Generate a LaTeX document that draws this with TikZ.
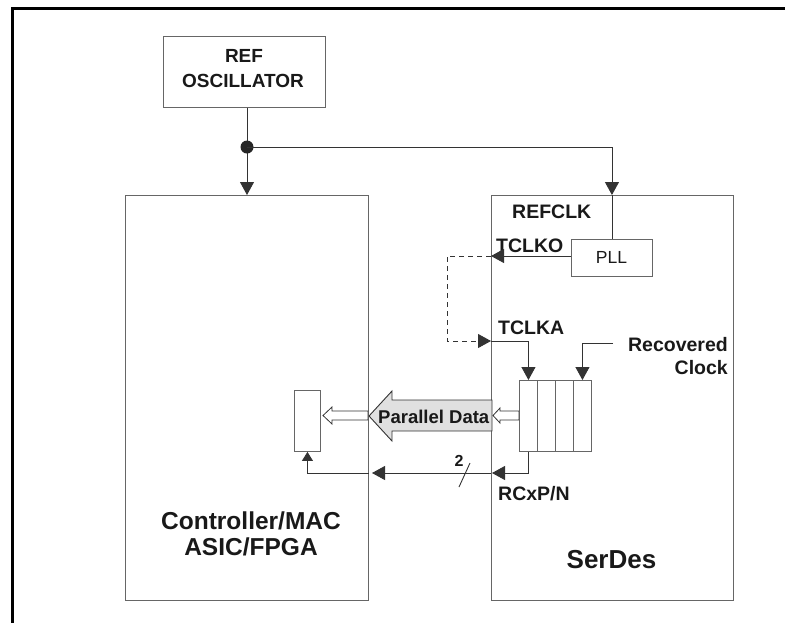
\documentclass[tikz,border=0pt]{standalone}
\usepackage{fontspec}
\setmainfont{Liberation Sans}
\usetikzlibrary{arrows.meta}
\begin{document}
\begin{tikzpicture}[x=1pt,y=-1pt,
  txt/.style={font=\bfseries\fontsize{19}{23}\selectfont, text=black!90, inner sep=0pt},
  blk/.style={draw=black!60, line width=0.9pt, inner sep=0pt, anchor=north west},
  con/.style={draw=black!80, line width=0.9pt},
  bigtip/.style={-{Triangle[width=14pt,length=13pt]}},
  smalltip/.style={-{Triangle[width=11pt,length=9pt]}},
  hollow/.style={draw=black!80, line width=0.8pt, fill=white}
]
\useasboundingbox (0,0) rectangle (785,622);
% outer frame
\draw[line width=2.7pt] (12.5,630) -- (12.5,8.7) -- (790,8.7);

% blocks
\node[blk, minimum width=162pt, minimum height=71pt] (refosc) at (163,36) {};
\node[txt, anchor=base] (reft) at (244,62) {REF};
\node[txt, anchor=base] (osct) at (243,87) {OSCILLATOR};
\node[blk, minimum width=243pt, minimum height=405pt] (ctrl) at (125,195) {};
\node[blk, minimum width=242pt, minimum height=405pt] (serdes) at (491,195) {};
\node[blk, minimum width=81pt, minimum height=37pt] (pll) at (571,239) {};
\node[anchor=base, inner sep=0pt, font=\fontsize{17.5}{20}\selectfont, text=black!90] (pllt) at (611.5,263) {PLL};
\node[blk, minimum width=26pt, minimum height=61pt] (small) at (294,390) {};
% fifo cells
\node[blk, minimum width=18pt, minimum height=71pt] (c1) at (519,380) {};
\node[blk, minimum width=18pt, minimum height=71pt] (c2) at (537,380) {};
\node[blk, minimum width=18pt, minimum height=71pt] (c3) at (555,380) {};
\node[blk, minimum width=18pt, minimum height=71pt] (c4) at (573,380) {};

% labels
\node[txt, anchor=base west, font=\bfseries\fontsize{19.5}{23}\selectfont] (refclk) at (512,218) {REFCLK};
\node[txt, anchor=base west, font=\bfseries\fontsize{19.5}{23}\selectfont] (tclko) at (496,252) {TCLKO};
\node[txt, anchor=base west, font=\bfseries\fontsize{19.5}{23}\selectfont] (tclkat) at (498,334) {TCLKA};
\node[txt, anchor=base east, font=\bfseries\fontsize{19.5}{23}\selectfont] (rec1) at (728,351) {Recovered};
\node[txt, anchor=base east, font=\bfseries\fontsize{19.5}{23}\selectfont] (rec2) at (728,374) {Clock};
\node[txt, anchor=base west, font=\bfseries\fontsize{19.5}{23}\selectfont] (rcxp) at (498,500) {RCxP/N};
\node[txt, anchor=base, font=\bfseries\fontsize{16}{18}\selectfont] (two) at (459,466) {2};
\node[txt, anchor=base, font=\bfseries\fontsize{24.5}{28}\selectfont] (ct1) at (251,529) {Controller/MAC};
\node[txt, anchor=base, font=\bfseries\fontsize{24.5}{28}\selectfont] (ct2) at (251,555) {ASIC/FPGA};
\node[txt, anchor=base, font=\bfseries\fontsize{26}{30}\selectfont] (sd) at (611.5,568) {SerDes};

% reference clock distribution
\coordinate (j) at (247,147);
\draw[con] (j |- refosc.south) -- (j);
\draw[con, bigtip] (j) -- (j |- ctrl.north);
\fill[black!85] (j) circle (6.5);
\draw[con, bigtip] (j) -| (pll.north |- serdes.north);
\draw[con] (pll.north |- serdes.north) -- (pll.north);

% TCLKO / TCLKA
\coordinate (to) at (serdes.west |- 0,256);
\coordinate (ta) at (serdes.west |- 0,341);
\draw[con, bigtip] (pll.west |- to) -- (to);
\draw[con, dashed, dash pattern=on 5pt off 4pt, bigtip] (to) -- ++(-44,0) |- (ta);
\draw[con, bigtip] (ta) -| (c1.north);
\coordinate (rcv) at (613,343);
\draw[con, bigtip] (rcv) -| (c4.north);

% parallel data
\draw[draw=black!80, line width=0.9pt, fill=black!12]
  (369,416) -- (392,391) -- (392,400) -- (492,400) -- (492,431) -- (392,431) -- (392,441) -- cycle;
\node[txt, anchor=base west, font=\bfseries\fontsize{18.5}{22}\selectfont] (pd) at (378,423) {Parallel Data};
\draw[hollow] (519,411) -- (500,411) -- (500,408) -- (493,415.5) -- (500,423) -- (500,420) -- (519,420) -- cycle;
\draw[hollow] (368,411) -- (332,411) -- (332,407) -- (323,415.5) -- (332,424) -- (332,420) -- (368,420) -- cycle;

% RCxP/N
\coordinate (rx) at (492,473);
\draw[con, bigtip] (c1.south) |- (rx);
\draw[con, bigtip] (serdes.west |- rx) -- (372,473);
\draw[con, smalltip] (ctrl.east |- rx) -| (small.south);
\draw[con] (459,487) -- (470,463);
\end{tikzpicture}
\end{document}
